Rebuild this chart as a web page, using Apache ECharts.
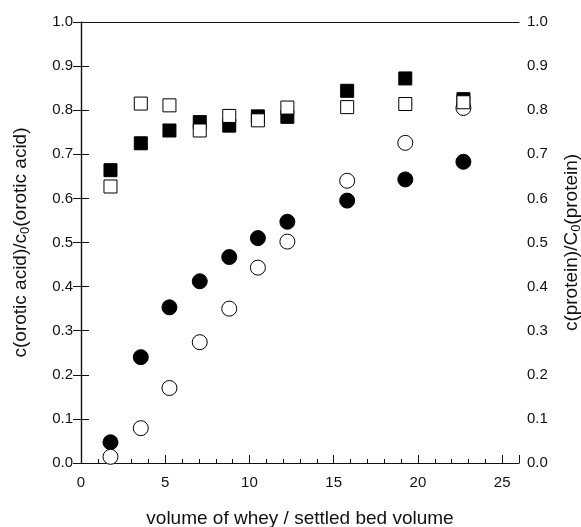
<!DOCTYPE html>
<html lang="en">
<head>
    <meta charset="UTF-8">
    <title>Orotic acid / protein breakthrough</title>
    <style>
        * { margin: 0; padding: 0; }
        #chart-container { width: 581px; height: 527px; background: #fff; }
    </style>
</head>
<body>
    <div id="chart-container"></div>
    <script src="https://cdn.jsdelivr.net/npm/echarts@6/dist/echarts.min.js"></script>
    <script>
        // volume of whey / settled bed volume
        var bedVolumes = [1.75, 3.55, 5.25, 7.05, 8.8, 10.5, 12.25, 15.8, 19.25, 22.7];
        // orotic acid (circles)
        var oroticFilled = [0.047, 0.240, 0.353, 0.412, 0.467, 0.510, 0.547, 0.595, 0.643, 0.683];
        var oroticOpen   = [0.014, 0.079, 0.170, 0.274, 0.350, 0.443, 0.502, 0.640, 0.726, 0.805];
        // protein (squares)
        var proteinFilled = [0.664, 0.725, 0.754, 0.773, 0.765, 0.786, 0.785, 0.844, 0.872, 0.825];
        var proteinOpen   = [0.627, 0.815, 0.811, 0.754, 0.787, 0.777, 0.806, 0.807, 0.814, 0.818];

        var xTicks = [0, 5, 10, 15, 20, 25];

        function pairs(ys) {
            return bedVolumes.map(function (x, i) { return [x, ys[i]]; });
        }

        var font = 'Liberation Sans, Arial, sans-serif';
        var ink = '#111';

        // axis titles with a real subscript
        var nameStyle = {
            fontFamily: font, fontSize: 19, color: ink, lineHeight: 22,
            rich: {
                sub: { fontFamily: font, fontSize: 13, color: ink, lineHeight: 22, verticalAlign: 'bottom' }
            }
        };

        var dom = document.getElementById('chart-container');
        var myChart = echarts.init(dom, null, { renderer: 'canvas' });

        var yAxisBase = {
            type: 'value',
            min: 0,
            max: 1,
            interval: 0.1,
            nameLocation: 'middle',
            nameTextStyle: nameStyle,
            axisLine: { show: true, lineStyle: { color: ink, width: 1.2 } },
            axisTick: { show: true, inside: true, length: 8, lineStyle: { color: ink } },
            axisLabel: {
                fontFamily: font, fontSize: 15, color: ink, margin: 8,
                formatter: function (v) { return v.toFixed(1); }
            },
            splitLine: { show: false }
        };

        var option = {
            animation: false,
            backgroundColor: '#fff',
            grid: { left: 81, right: 62, top: 22, bottom: 64, show: false, containLabel: false, outerBoundsMode: 'none' },
            xAxis: [{
                type: 'value',
                min: 0,
                max: 26,
                interval: 5,
                name: 'volume of whey / settled bed volume',
                nameLocation: 'middle',
                nameGap: 46,
                nameTextStyle: { fontFamily: font, fontSize: 19, color: ink },
                axisLine: { show: true, onZero: false, lineStyle: { color: ink, width: 1.2 } },
                axisTick: { show: true, inside: true, length: 8, lineStyle: { color: ink } },
                minorTick: { show: true, splitNumber: 5, length: 4, lineStyle: { color: ink } },
                axisLabel: {
                    fontFamily: font, fontSize: 15, color: ink, margin: 12,
                    formatter: function (v) { return xTicks.indexOf(v) >= 0 ? String(v) : ''; }
                },
                splitLine: { show: false }
            }, {
                type: 'value',
                position: 'top',
                min: 0,
                max: 26,
                axisLine: { show: true, onZero: false, lineStyle: { color: ink, width: 1.2 } },
                axisTick: { show: false },
                axisLabel: { show: false },
                splitLine: { show: false }
            }],
            yAxis: [
                Object.assign({}, yAxisBase, {
                    position: 'left',
                    name: 'c(orotic acid)/c{sub|0}(orotic acid)',
                    nameGap: 49
                }),
                Object.assign({}, yAxisBase, {
                    position: 'right',
                    name: 'c(protein)/C{sub|0}(protein)',
                    nameGap: 42
                })
            ],
            series: [
                {
                    name: 'orotic acid (filled)',
                    type: 'scatter',
                    yAxisIndex: 0,
                    symbol: 'circle',
                    symbolSize: 15,
                    itemStyle: { color: '#000', borderColor: '#000', borderWidth: 1, opacity: 1 },
                    data: pairs(oroticFilled)
                },
                {
                    name: 'orotic acid (open)',
                    type: 'scatter',
                    yAxisIndex: 0,
                    symbol: 'circle',
                    symbolSize: 15,
                    itemStyle: { color: '#fff', borderColor: '#000', borderWidth: 1, opacity: 1 },
                    data: pairs(oroticOpen)
                },
                {
                    name: 'protein (filled)',
                    type: 'scatter',
                    yAxisIndex: 1,
                    symbol: 'rect',
                    symbolSize: 13,
                    itemStyle: { color: '#000', borderColor: '#000', borderWidth: 1, opacity: 1 },
                    data: pairs(proteinFilled)
                },
                {
                    name: 'protein (open)',
                    type: 'scatter',
                    yAxisIndex: 1,
                    symbol: 'rect',
                    symbolSize: 13,
                    itemStyle: { color: '#fff', borderColor: '#000', borderWidth: 1, opacity: 1 },
                    data: pairs(proteinOpen)
                }
            ]
        };

        myChart.setOption(option);
        window.addEventListener('resize', myChart.resize);
    </script>
</body>
</html>
